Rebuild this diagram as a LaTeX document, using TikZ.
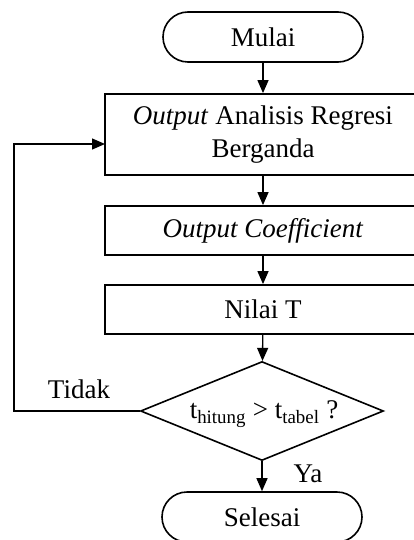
\documentclass[tikz,border=0pt]{standalone}
\usepackage{fontspec}
\setmainfont{Liberation Serif}
\usetikzlibrary{shapes.geometric,arrows.meta}
\begin{document}
\begin{tikzpicture}[x=1pt,y=-1pt,
  every node/.style={font=\fontsize{27}{33}\selectfont},
  term/.style={draw,line width=1.6pt,rounded corners=25pt,minimum width=200pt,minimum height=50pt,inner sep=0pt},
  procbox/.style={draw,line width=1.8pt,minimum width=316pt,inner sep=0pt,align=center},
  decis/.style={draw,line width=1.6pt,shape=diamond,aspect=2.45,minimum width=243pt,minimum height=99pt,inner sep=0pt},
  conn/.style={line width=1.3pt,-{Triangle[length=13pt,width=11pt]}},
  lbl/.style={inner sep=0pt}]
\useasboundingbox (0,0) rectangle (414,540);
\clip (0,0) rectangle (414,540);
\node[term] (start) at (263,37) {Mulai};
\node[procbox,minimum height=81pt] (out) at (263,134.5) {\textit{Output} Analisis Regresi\\Berganda};
\node[procbox,minimum height=49pt] (coef) at (263,230.5) {\textit{Output Coefficient}};
\node[procbox,minimum height=49pt] (nilai) at (263,309.5) {Nilai T};
\node[decis] (dec) at (262,411) {};
\node[lbl] (cond) at (264,414) {t\textsubscript{hitung} > t\textsubscript{tabel} ?};
\node[term] (end) at (262,517) {Selesai};
\coordinate (c1) at (14,411);
\coordinate (c2) at (14,144);
\coordinate (c3) at (105,144);
\draw[conn] (start) -- (out);
\draw[conn] (out) -- (coef);
\draw[conn] (coef) -- (nilai);
\draw[conn] (nilai) -- (dec);
\draw[conn] (dec) -- (end);
\draw[conn,line width=1.2pt] (dec.west) -- (c1) -- (c2) -- (c3);
\node[lbl] (tidak) at (79,389) {Tidak};
\node[lbl] (ya) at (308,474) {Ya};
\end{tikzpicture}
\end{document}
